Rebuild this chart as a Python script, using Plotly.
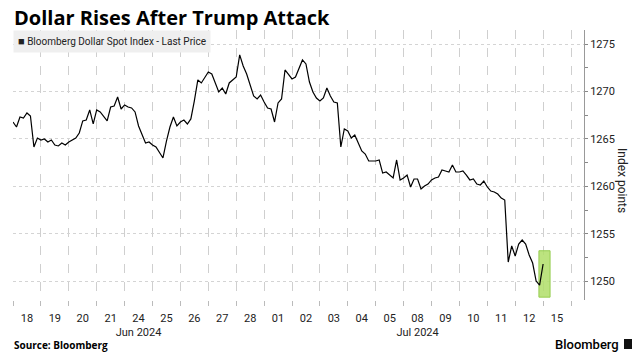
import plotly.graph_objects as go

# Bloomberg Dollar Spot Index, sampled 8 times per trading day (index 0 = Jun 18 open)
samples_per_day = 8
price = [
    1266.79, 1266.26, 1267.32, 1267.21, 1267.74, 1267.42, 1264.15, 1265.10,  # Jun 18
    1264.89, 1265.00, 1264.68, 1264.89, 1264.36, 1264.26, 1264.57, 1264.36,  # Jun 19
    1264.68, 1264.89, 1265.10, 1265.63, 1266.90, 1267.00, 1268.06, 1266.58,  # Jun 20
    1268.06, 1267.85, 1267.32, 1266.90, 1268.37, 1268.48, 1269.43, 1268.16,  # Jun 21
    1268.59, 1268.37, 1268.27, 1267.85, 1266.37, 1265.52, 1264.57, 1264.68,  # Jun 24
    1264.36, 1264.15, 1263.62, 1262.99, 1264.78, 1266.26, 1267.32, 1266.37,  # Jun 25
    1266.79, 1267.00, 1266.58, 1267.11, 1269.01, 1271.23, 1270.91, 1271.54,  # Jun 26
    1272.07, 1271.86, 1270.91, 1269.96, 1270.38, 1269.75, 1270.91, 1271.23,  # Jun 27
    1271.54, 1273.87, 1272.70, 1271.86, 1270.59, 1269.54, 1269.22, 1269.64,  # Jun 28
    1268.90, 1268.27, 1268.16, 1266.79, 1268.80, 1269.22, 1272.28, 1271.86,  # Jul 01
    1271.33, 1271.54, 1272.49, 1273.34, 1272.92, 1271.01, 1269.96, 1269.32,  # Jul 02
    1269.01, 1269.32, 1270.38, 1269.54, 1268.90, 1268.80, 1264.15, 1266.05,  # Jul 03
    1265.84, 1265.10, 1265.42, 1264.57, 1263.73, 1263.41, 1262.67, 1262.67,  # Jul 04
    1262.67, 1262.78, 1261.40, 1261.51, 1261.19, 1260.88, 1262.78, 1260.67,  # Jul 05
    1260.88, 1261.19, 1259.93, 1260.77, 1260.77, 1259.72, 1260.03, 1260.24,  # Jul 08
    1260.67, 1260.88, 1260.98, 1261.72, 1261.62, 1261.51, 1262.25, 1261.51,  # Jul 09
    1261.51, 1261.62, 1261.19, 1260.67, 1260.77, 1260.24, 1260.14, 1260.56,  # Jul 10
    1259.93, 1259.50, 1259.40, 1259.19, 1258.76, 1258.55, 1252.01, 1253.70,  # Jul 11
    1252.64, 1253.91, 1254.33, 1253.91, 1252.75, 1251.90, 1250.00, 1249.58,  # Jul 12
    1251.80,                                                                  # Jul 15
]
day_labels = ["18", "19", "20", "21", "24", "25", "26", "27", "28", "01",
              "02", "03", "04", "05", "08", "09", "10", "11", "12", "15"]
month_labels = {"24": "Jun 2024", "08": "Jul 2024"}
y_ticks = [1250, 1255, 1260, 1265, 1270, 1275]

title = "Dollar Rises After Trump Attack"
series_name = "Bloomberg Dollar Spot Index - Last Price"
y_title = "Index points"
source = "Source: Bloomberg"

t = [i / samples_per_day for i in range(len(price))]

# plot-area pixel geometry
L, R, T, B = 13, 584, 30, 300
W, H = R - L, B - T
def px(p):
    return (p - L) / W
def py(p):
    return (B - p) / H

tickvals = [i + 0.5 for i in range(len(day_labels))]
ticktext = [d + ("<br>" + month_labels[d] if d in month_labels else "") for d in day_labels]

fig = go.Figure()
fig.add_trace(go.Scatter(x=t, y=price, mode="lines",
                         line=dict(color="#000000", width=1.2),
                         name=series_name, showlegend=False,
                         hoverinfo="skip"))

fig.add_shape(type="rect", xref="x", yref="y",
              x0=18.85, x1=19.25, y0=1248.3, y1=1253.2,
              fillcolor="rgba(176,222,104,0.85)",
              line=dict(color="rgba(150,205,80,1)", width=1),
              layer="between")

tickfont = dict(family="Roboto, Arial, sans-serif", size=11, color="#222222")

fig.update_layout(
    width=637, height=357,
    margin=dict(l=L, r=637 - R, t=T, b=357 - B, autoexpand=False),
    paper_bgcolor="white", plot_bgcolor="white",
    xaxis=dict(range=[0, W / 27.9], tickvals=tickvals, ticktext=ticktext,
               tickangle=0, automargin=False,
               ticks="", showgrid=False, zeroline=False, showline=False,
               tickfont=tickfont, ticklabelstandoff=10,
               minor=dict(tick0=0, dtick=1, showgrid=True, gridcolor="#cfcfcf",
                          griddash="dash", gridwidth=1, ticks="outside",
                          ticklen=5, tickcolor="#bbbbbb")),
    yaxis=dict(side="right", range=[1248.0, 1276.5], tickvals=y_ticks,
               automargin=False,
               showgrid=True, gridcolor="#d4d4d4", griddash="dot",
               zeroline=False, showline=True, linecolor="#999999", linewidth=1,
               ticks="outside", ticklen=3, tickcolor="#888888",
               tickfont=tickfont,
               minor=dict(dtick=2.5, tick0=1250, ticks="outside", ticklen=3,
                          tickcolor="#888888", showgrid=False)),
    showlegend=False,
)

annotations = [
    dict(text="<b>" + title + "</b>", x=px(12), y=py(18), xref="paper", yref="paper",
         xanchor="left", yanchor="middle", showarrow=False,
         font=dict(family="Open Sans, Arial, sans-serif", size=20, color="#000000")),
    dict(text="<span style='font-size:11px'>■</span> " + series_name,
         x=px(13), y=py(42), xref="paper", yref="paper",
         xanchor="left", yanchor="middle", showarrow=False,
         bgcolor="#efefef", borderpad=4,
         font=dict(family="Roboto, Arial, sans-serif", size=10, color="#222222")),
    dict(text=y_title, x=px(622), y=py(180), xref="paper", yref="paper",
         xanchor="center", yanchor="middle", textangle=90, showarrow=False,
         font=dict(family="Roboto, Arial, sans-serif", size=12, color="#222222")),
    dict(text="<b>" + source + "</b>", x=px(12), y=py(345), xref="paper", yref="paper",
         xanchor="left", yanchor="middle", showarrow=False,
         font=dict(family="Open Sans, Arial, sans-serif", size=10, color="#000000")),
    dict(text="Bloomberg", x=px(621), y=py(344), xref="paper", yref="paper",
         xanchor="right", yanchor="middle", showarrow=False,
         font=dict(family="Roboto, Arial, sans-serif", size=13, color="#000000",
                   weight=500)),
]
fig.update_layout(annotations=annotations)
fig.add_shape(type="rect", xref="paper", yref="paper",
              x0=px(624), x1=px(632), y0=py(349), y1=py(339),
              fillcolor="#111111", line=dict(width=0))

fig.write_html("out.html", config={"displayModeBar": False},
               post_script="document.body.style.margin='0';document.body.style.overflow='hidden';")
